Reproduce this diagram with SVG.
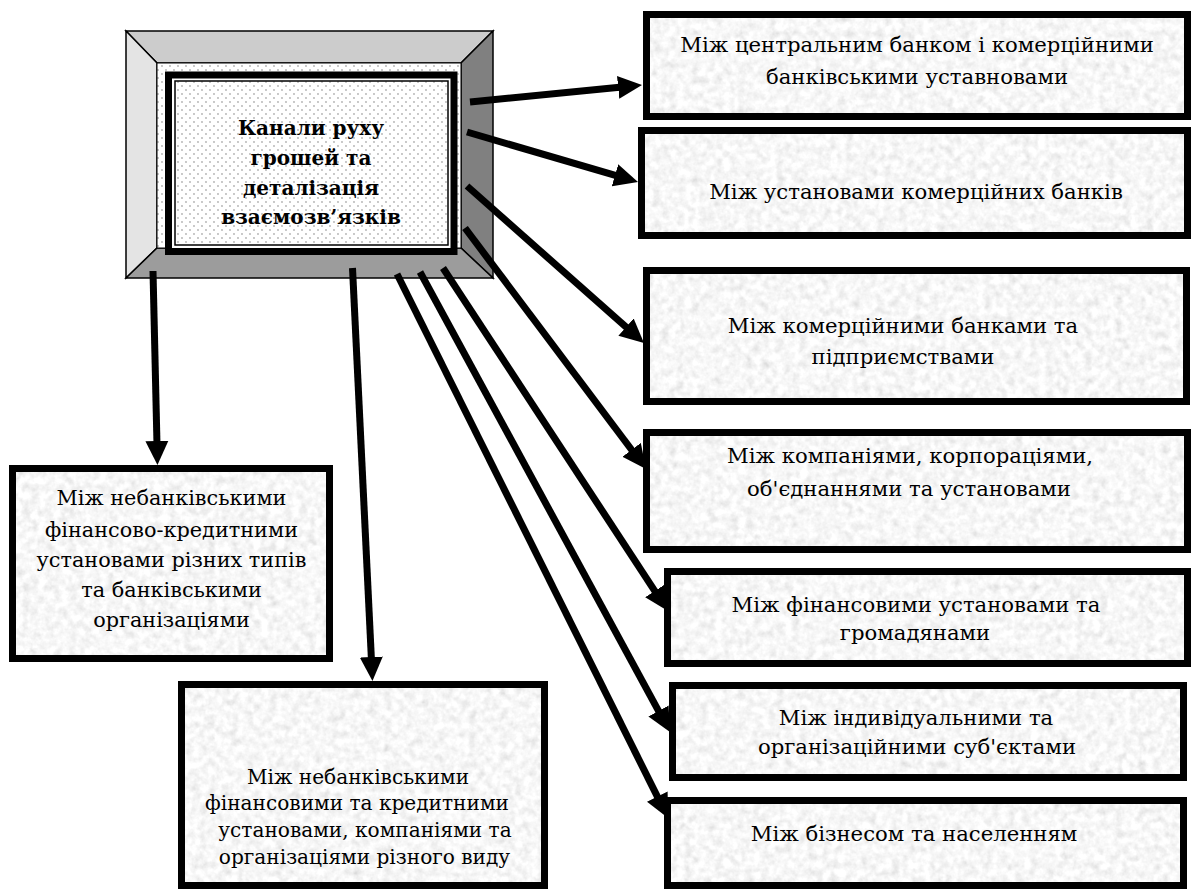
<svg xmlns="http://www.w3.org/2000/svg" width="1192" height="892" viewBox="0 0 1192 892">
<style>
.frame{fill:none;stroke:#000;stroke-width:7}
.t{font-family:"DejaVu Serif","Liberation Serif",serif;font-size:21.2px;fill:#000;text-anchor:middle}
.ta{font-size:20.8px}
.tbb{font-size:20.1px}
.tb{font-family:"DejaVu Serif","Liberation Serif",serif;font-size:20px;font-weight:bold;fill:#000;text-anchor:middle}
.bev{stroke:#000;stroke-width:1.5;stroke-linejoin:miter}
.arr{fill:none;stroke:#000;stroke-width:7;marker-end:url(#ah)}
</style>
<defs>
<filter id="granite" x="0" y="0" width="1" height="1">
<feTurbulence type="fractalNoise" baseFrequency="0.13" numOctaves="3" seed="7" result="n"/>
<feColorMatrix in="n" type="matrix" values="0.3 0.3 0 0 0.63  0.3 0.3 0 0 0.63  0.3 0.3 0 0 0.63  0 0 0 0 1" result="g"/>
<feComposite in="g" in2="SourceGraphic" operator="in"/>
</filter>
<pattern id="dots" width="8" height="8" patternUnits="userSpaceOnUse">
<rect width="8" height="8" fill="#fff"/>
<circle cx="2" cy="2" r="0.9" fill="#b0b0b0"/>
<circle cx="6" cy="6" r="0.9" fill="#b0b0b0"/>
</pattern>
<marker id="ah" markerUnits="userSpaceOnUse" markerWidth="24" markerHeight="24" refX="4" refY="11.5" orient="auto" viewBox="0 0 24 23">
<path d="M0,0 L24,11.5 L0,23 z" fill="#000"/>
</marker>
</defs>
<rect width="1192" height="892" fill="#fff"/>

<g id="center">
<polygon class="bev" points="126,31 493,31 461,63 157,63" fill="#cccccc"/>
<polygon class="bev" points="126,31 157,63 157,248 126,278" fill="#e4e4e4"/>
<polygon class="bev" points="493,31 493,278 461,248 461,63" fill="#808080"/>
<polygon class="bev" points="126,278 157,248 461,248 493,278" fill="#9c9c9c"/>
<rect x="157" y="63" width="304" height="185" fill="url(#dots)" stroke="#000" stroke-width="1"/>
<rect x="168.5" y="75" width="285.5" height="176.5" fill="#fff" stroke="#000" stroke-width="7"/>
<rect x="175" y="81" width="273" height="164" fill="url(#dots)" stroke="#000" stroke-width="1.5"/>
<text class="tb" x="311" y="135">Канали руху</text>
<text class="tb" x="311" y="164.5">грошей та</text>
<text class="tb" x="311" y="194.5">деталізація</text>
<text class="tb" x="311" y="224">взаємозв’язків</text>
</g>

<g id="n1">
<rect x="646.5" y="14.5" width="541" height="102" fill="#fff" filter="url(#granite)"/>
<rect class="frame" x="646.5" y="14.5" width="541" height="102"/>
<text class="t" x="917" y="52">Між центральним банком і комерційними</text>
<text class="t" x="917" y="83.5">банківськими уставновами</text>
</g>

<g id="n2">
<rect x="641.5" y="130.5" width="546" height="105" fill="#fff" filter="url(#granite)"/>
<rect class="frame" x="641.5" y="130.5" width="546" height="105"/>
<text class="t" x="916" y="198.5">Між установами комерційних банків</text>
</g>

<g id="n3">
<rect x="646.5" y="270.5" width="540" height="131" fill="#fff" filter="url(#granite)"/>
<rect class="frame" x="646.5" y="270.5" width="540" height="131"/>
<text class="t" x="903" y="332.5">Між комерційними банками та</text>
<text class="t" x="903" y="364">підприємствами</text>
</g>

<g id="n4">
<rect x="646.5" y="432.5" width="541" height="117" fill="#fff" filter="url(#granite)"/>
<rect class="frame" x="646.5" y="432.5" width="541" height="117"/>
<text class="t" x="910" y="463">Між компаніями, корпораціями,</text>
<text class="t" x="909" y="496">об'єднаннями та установами</text>
</g>

<g id="n5">
<rect x="667.5" y="571.5" width="520" height="92" fill="#fff" filter="url(#granite)"/>
<rect class="frame" x="667.5" y="571.5" width="520" height="92"/>
<text class="t" x="916" y="611.5">Між фінансовими установами та</text>
<text class="t" x="915" y="639.5">громадянами</text>
</g>

<g id="n6">
<rect x="672.5" y="685.5" width="511" height="92" fill="#fff" filter="url(#granite)"/>
<rect class="frame" x="672.5" y="685.5" width="511" height="92"/>
<text class="t" x="916" y="725">Між індивідуальними та</text>
<text class="t" x="917" y="753.5">організаційними суб'єктами</text>
</g>

<g id="n7">
<rect x="667.5" y="800.5" width="516" height="85" fill="#fff" filter="url(#granite)"/>
<rect class="frame" x="667.5" y="800.5" width="516" height="85"/>
<text class="t" x="914" y="841">Між бізнесом та населенням</text>
</g>

<g id="nA">
<rect x="12.5" y="468.5" width="317" height="190" fill="#fff" filter="url(#granite)"/>
<rect class="frame" x="12.5" y="468.5" width="317" height="190"/>
<text class="t ta" x="171.5" y="505">Між небанківськими</text>
<text class="t ta" x="171.5" y="536.5">фінансово-кредитними</text>
<text class="t ta" x="171.5" y="567">установами різних типів</text>
<text class="t ta" x="171.5" y="597">та банківськими</text>
<text class="t ta" x="171.5" y="627">організаціями</text>
</g>

<g id="nB">
<rect x="181.5" y="684.5" width="363" height="201" fill="#fff" filter="url(#granite)"/>
<rect class="frame" x="181.5" y="684.5" width="363" height="201"/>
<text class="t tbb" x="358" y="783.5">Між небанківськими</text>
<text class="t tbb" x="357" y="810">фінансовими та кредитними</text>
<text class="t tbb" x="365" y="836.5">установами, компаніями та</text>
<text class="t tbb" x="364.5" y="863.5">організаціями різного виду</text>
</g>

<g id="connectors">
<line class="arr" x1="470" y1="102" x2="622.1" y2="87"/>
<line class="arr" x1="467" y1="132" x2="618.8" y2="176.4"/>
<line class="arr" x1="467" y1="186" x2="629" y2="329.7"/>
<line class="arr" x1="465" y1="228" x2="634" y2="453"/>
<line class="arr" x1="443" y1="268" x2="657" y2="594.3"/>
<line class="arr" x1="420" y1="272" x2="660.4" y2="714.4"/>
<line class="arr" x1="397" y1="274" x2="659.1" y2="800.1"/>
<line class="arr" x1="153" y1="271" x2="157" y2="445"/>
<line class="arr" x1="352.5" y1="268" x2="371.5" y2="661"/>
</g>
</svg>
